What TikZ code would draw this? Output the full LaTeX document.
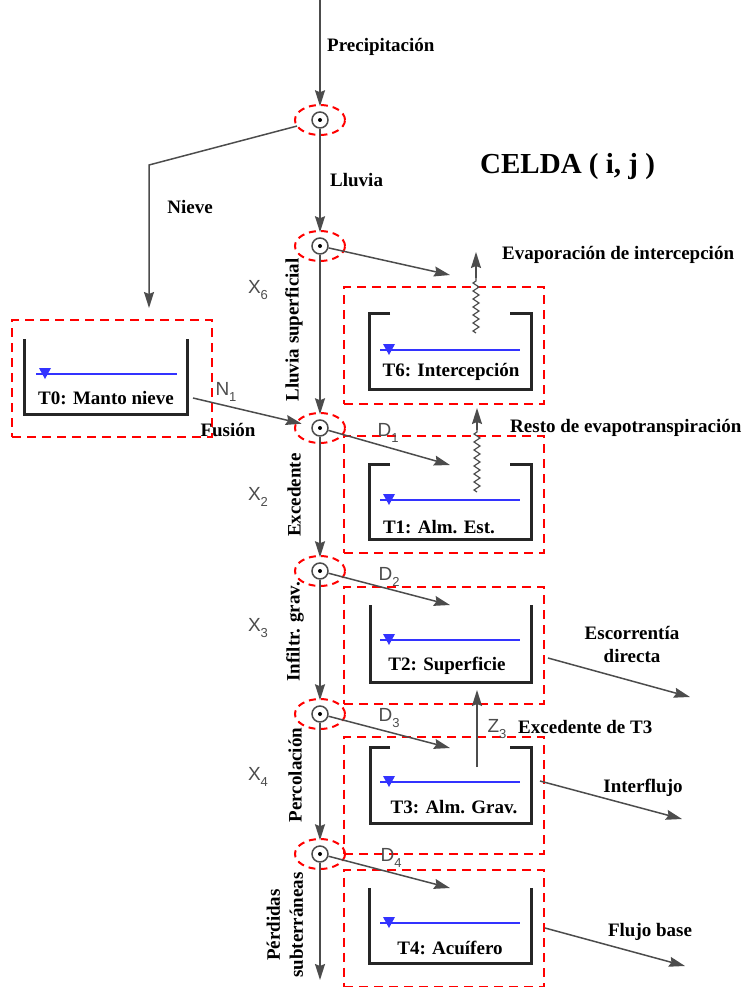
\documentclass[tikz,border=0pt]{standalone}
\usepackage{fontspec}
\setmainfont{Liberation Serif}
\newfontfamily\xfont{Liberation Sans}
\usetikzlibrary{arrows.meta,decorations.pathmorphing}

\definecolor{linegray}{rgb}{0.3,0.3,0.3}
\definecolor{tankgray}{rgb}{0.15,0.15,0.15}
\definecolor{waterblue}{rgb}{0.2,0.2,1}
\newcommand{\xsub}[2]{{\xfont\mdseries #1\raisebox{-0.3em}{\fontsize{13}{13}\selectfont #2}}}

\begin{document}
\begin{tikzpicture}[x=1pt, y=-1pt,
  every node/.style={inner sep=2pt, font=\fontsize{19}{23}\selectfont\bfseries},
  flow/.style={draw=linegray, line width=1.5pt, -{Stealth[length=16pt,width=10pt,inset=2pt]}},
  mainflow/.style={flow, shorten >=5pt},
  wave/.style={draw=linegray, line width=1.2pt, decorate, decoration={zigzag, amplitude=3pt, segment length=8pt}},
  junction/.style={circle, draw=linegray, line width=1.5pt, minimum size=16pt, inner sep=0pt,
    path picture={\fill[black] (path picture bounding box.center) circle (2pt);}},
  reddash/.style={draw=red, line width=2pt, dash pattern=on 7pt off 5pt},
  cellbox/.style={draw=red, line width=2pt, dash pattern=on 9pt off 6pt, minimum width=200pt, minimum height=117pt, inner sep=0pt},
  tank/.style={draw=tankgray, line width=3pt},
  water/.style={draw=waterblue, line width=1.6pt},
  xlabel/.style={text=linegray}]
\useasboundingbox (0,0) rectangle (744,987);

\node [cellbox] (b0) at (112,378.5) {};
\node [cellbox] (b6) at (444,345.5) {};
\node [cellbox] (b1) at (444,494.5) {};
\node [cellbox] (b2) at (444,645) {};
\node [cellbox] (b3) at (444,795) {};
\node [cellbox] (b4) at (444,928) {};

\draw [tank] (24,339) -- (24,414) -- (187,414) -- (187,339);
\draw [tank] (390,313) -- (369,313) -- (369,389) -- (531,389) -- (531,313) -- (510,313);
\draw [tank] (390,464) -- (369,464) -- (369,539) -- (531,539) -- (531,464) -- (510,464);
\draw [tank] (370,605) -- (370,682) -- (531,682) -- (531,605);
\draw [tank] (390,747) -- (370,747) -- (370,823) -- (531,823) -- (531,747) -- (510,747);
\draw [tank] (369,888) -- (369,963) -- (531,963) -- (531,888);

\draw [water] (36,374) -- (177,374);
\fill [waterblue] (39,368) -- (51,368) -- (45,379) -- cycle;
\draw [water] (380,350) -- (520,350);
\fill [waterblue] (383,344) -- (395,344) -- (389,355) -- cycle;
\draw [water] (380,500) -- (520,500);
\fill [waterblue] (383,494) -- (395,494) -- (389,505) -- cycle;
\draw [water] (380,640) -- (520,640);
\fill [waterblue] (383,634) -- (395,634) -- (389,645) -- cycle;
\draw [water] (380,782) -- (520,782);
\fill [waterblue] (383,776) -- (395,776) -- (389,787) -- cycle;
\draw [water] (380,923) -- (520,923);
\fill [waterblue] (383,917) -- (395,917) -- (389,928) -- cycle;

\node (t0) at (106,398) {T0: Manto nieve};
\node (t6) at (451,372) {T6: Intercepción};
\node (t1) at (439,527) {T1: Alm. Est.};
\node (t2) at (447,666) {T2: Superficie};
\node (t3) at (454,807) {T3: Alm. Grav.};
\node (t4) at (450,948) {T4: Acuífero};

\coordinate (top) at (320,0);
\coordinate (bottom) at (320,980);
\node [junction] (j1) at (320,120) {};
\node [junction] (j2) at (320,246) {};
\node [junction] (j3) at (320,428) {};
\node [junction] (j4) at (320,571) {};
\node [junction] (j5) at (320,714) {};
\node [junction] (j6) at (320,854) {};
\draw [reddash] (j1) ellipse [x radius=25pt, y radius=15pt];
\draw [reddash] (j2) ellipse [x radius=25pt, y radius=15pt];
\draw [reddash] (j3) ellipse [x radius=25pt, y radius=15pt];
\draw [reddash] (j4) ellipse [x radius=25pt, y radius=15pt];
\draw [reddash] (j5) ellipse [x radius=25pt, y radius=15pt];
\draw [reddash] (j6) ellipse [x radius=25pt, y radius=15pt];

\draw [mainflow] (top) -- (j1);
\draw [mainflow] (j1) -- (j2);
\draw [mainflow] (j2) -- (j3);
\draw [mainflow] (j3) -- (j4);
\draw [mainflow] (j4) -- (j5);
\draw [mainflow] (j5) -- (j6);
\draw [flow] (j6) -- (bottom);

\coordinate (nv) at (149,165);
\coordinate (nvend) at (149,308);
\draw [flow, shorten <=15pt] (j1) -- (nv) -- (nvend);
\coordinate (f0) at (193,398);
\draw [flow, shorten >=10pt] (f0) -- (j3);

\coordinate (i6) at (450,275);
\coordinate (i1) at (450,465);
\coordinate (i2) at (450,605);
\coordinate (i3) at (450,748);
\coordinate (i4) at (450,888);
\draw [flow] (j2) -- (i6);
\draw [flow] (j3) -- (i1);
\draw [flow] (j4) -- (i2);
\draw [flow] (j5) -- (i3);
\draw [flow] (j6) -- (i4);

\coordinate (w6a) at (476,333);
\coordinate (w6b) at (476,278);
\coordinate (w6c) at (476,252);
\draw [wave] (w6a) -- (w6b);
\draw [flow] (w6b) -- (w6c);
\coordinate (w1a) at (477,492);
\coordinate (w1b) at (477,430);
\coordinate (w1c) at (477,408);
\draw [wave] (w1a) -- (w1b);
\draw [flow] (w1b) -- (w1c);
\coordinate (z3a) at (477,767);
\coordinate (z3b) at (477,690);
\draw [flow] (z3a) -- (z3b);

\coordinate (o2a) at (548,658);
\coordinate (o2b) at (690,697);
\coordinate (o3a) at (540,781);
\coordinate (o3b) at (682,819);
\coordinate (o4a) at (545,928);
\coordinate (o4b) at (685,966);
\draw [flow] (o2a) -- (o2b);
\draw [flow] (o3a) -- (o3b);
\draw [flow] (o4a) -- (o4b);

\node [right] (precip) at (325,47) {Precipitación};
\node [right] (lluvia) at (328,180) {Lluvia};
\node (nieve) at (190,207) {Nieve};
\node [right, font=\fontsize{29}{31}\selectfont\bfseries] (celda) at (478,167) {CELDA ( i, j )};
\node [right] (evint) at (500,255) {Evaporación de intercepción};
\node [right] (resto) at (508,428) {Resto de evapotranspiración};
\node [right] (exc3) at (516,727) {Excedente de T3};
\node [align=center] (escor) at (632,644) {Escorrentía\\directa};
\node (inter) at (643,788) {Interflujo};
\node (fbase) at (650,932) {Flujo base};
\node (fusion) at (228,430) {Fusión};

\node [rotate=90] (lsup) at (294,330) {Lluvia superficial};
\node [rotate=90] (exced) at (294,495) {Excedente};
\node [rotate=90] (infil) at (295,632) {Infiltr. grav.};
\node [rotate=90] (perco) at (295,775) {Percolación};
\node [rotate=90, align=center] (perd) at (285,925) {Pérdidas\\subterráneas};

\node [xlabel] (x6) at (258,290) {\xsub{X}{6}};
\node [xlabel] (x2) at (258,497) {\xsub{X}{2}};
\node [xlabel] (x3) at (258,628) {\xsub{X}{3}};
\node [xlabel] (x4) at (258,777) {\xsub{X}{4}};
\node [xlabel] (d1) at (388,433) {\xsub{D}{1}};
\node [xlabel] (d2) at (389,577) {\xsub{D}{2}};
\node [xlabel] (d3) at (389,718) {\xsub{D}{3}};
\node [xlabel] (d4) at (391,858) {\xsub{D}{4}};
\node [xlabel] (n1) at (226,392) {\xsub{N}{1}};
\node [xlabel] (z3) at (497,729) {\xsub{Z}{3}};
\end{tikzpicture}
\end{document}
